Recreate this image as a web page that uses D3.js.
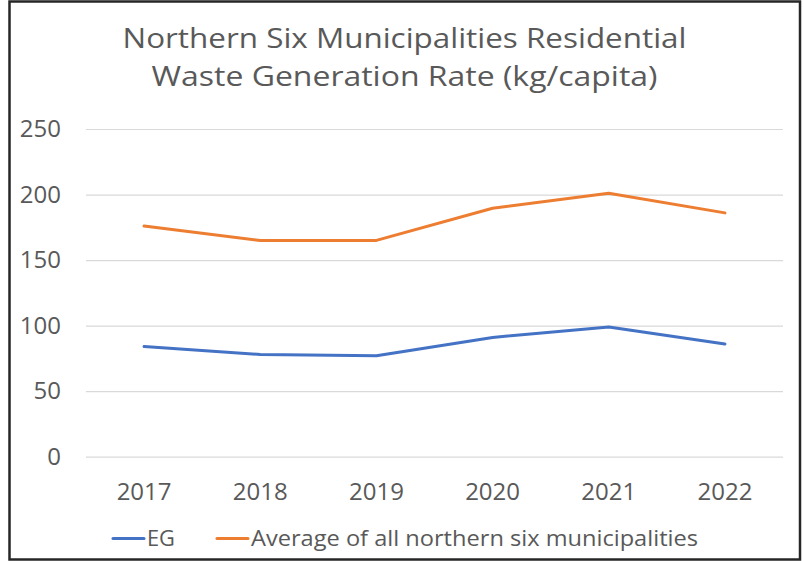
<!DOCTYPE html>
<html>
<head>
  <meta charset="UTF-8">
  <title>Northern Six Municipalities Residential Waste Generation Rate</title>
  <script src="https://d3js.org/d3.v7.min.js"></script>
  <style>
    body { margin: 0; background: #fff; }
    text { font-family: "Open Sans", sans-serif; fill: #595959; }
  </style>
</head>
<body>
<svg width="804" height="561"></svg>
<script>
// chart data
const years = ['2017', '2018', '2019', '2020', '2021', '2022'];
const egValues = [84, 78, 77, 91, 99, 86];
const avgValues = [176, 165, 165, 189.5, 201, 186];
const yTicks = [0, 50, 100, 150, 200, 250];
const seriesNames = ['EG', 'Average of all northern six municipalities'];
const seriesColors = ['#4472C4', '#ED7D31'];
const titleLines = ['Northern Six Municipalities Residential', 'Waste Generation Rate (kg/capita)'];

const svg = d3.select('svg');

// outer frame
svg.append('rect')
  .attr('x', 9.5).attr('y', 1.5)
  .attr('width', 790.5).attr('height', 558)
  .attr('fill', 'none')
  .attr('stroke', '#262626')
  .attr('stroke-width', 2.5);

// plot area
const plot = { left: 86, right: 783, top: 129, bottom: 456.7 };

const x = d3.scaleBand().domain(years).range([plot.left, plot.right]);
const y = d3.scaleLinear().domain([0, 250]).range([plot.bottom, plot.top]);

// title (two lines, stretched to the reference widths)
svg.append('g').selectAll('text')
  .data(titleLines)
  .join('text')
  .attr('x', 404.5)
  .attr('y', (d, i) => 47.5 + i * 38.5)
  .attr('text-anchor', 'middle')
  .attr('font-size', '28px')
  .attr('textLength', (d, i) => i === 0 ? 564 : 506)
  .attr('lengthAdjust', 'spacingAndGlyphs')
  .text(d => d);

// gridlines
svg.append('g')
  .attr('transform', `translate(${plot.left},0)`)
  .call(d3.axisLeft(y).tickValues(yTicks).tickSize(-(plot.right - plot.left)).tickFormat(''))
  .call(g => g.select('.domain').remove())
  .call(g => g.selectAll('line').attr('stroke', '#d9d9d9').attr('stroke-width', 1.2));

// y labels
svg.append('g')
  .attr('transform', 'translate(61,0)')
  .call(d3.axisLeft(y).tickValues(yTicks).tickSize(0).tickPadding(0))
  .call(g => g.select('.domain').remove())
  .call(g => g.selectAll('text')
    .attr('font-size', '24px')
    .attr('font-family', '"Open Sans", sans-serif')
    .attr('fill', '#595959'));

// x labels
svg.append('g')
  .attr('transform', 'translate(0,483)')
  .call(d3.axisBottom(x).tickSize(0).tickPadding(0))
  .call(g => g.select('.domain').remove())
  .call(g => g.selectAll('text')
    .attr('font-size', '24px')
    .attr('font-family', '"Open Sans", sans-serif')
    .attr('fill', '#595959')
    .attr('dy', '0.72em'));

// lines
const line = d3.line()
  .x((d, i) => x(years[i]) + x.bandwidth() / 2)
  .y(d => y(d));

[egValues, avgValues].forEach((vals, i) => {
  svg.append('path')
    .datum(vals)
    .attr('fill', 'none')
    .attr('stroke', seriesColors[i])
    .attr('stroke-width', 3)
    .attr('stroke-linejoin', 'round')
    .attr('stroke-linecap', 'round')
    .attr('d', line);
});

// legend
const legendX = [113, 217];
const legendTextLen = [28, 447];
const legend = svg.append('g');
seriesNames.forEach((name, i) => {
  legend.append('line')
    .attr('x1', legendX[i]).attr('x2', legendX[i] + 31)
    .attr('y1', 538.5).attr('y2', 538.5)
    .attr('stroke', seriesColors[i])
    .attr('stroke-width', 3)
    .attr('stroke-linecap', 'round');
  legend.append('text')
    .attr('x', legendX[i] + 34)
    .attr('y', 546)
    .attr('font-size', '21.5px')
    .attr('textLength', legendTextLen[i])
    .attr('lengthAdjust', 'spacingAndGlyphs')
    .text(name);
});
</script>
</body>
</html>
